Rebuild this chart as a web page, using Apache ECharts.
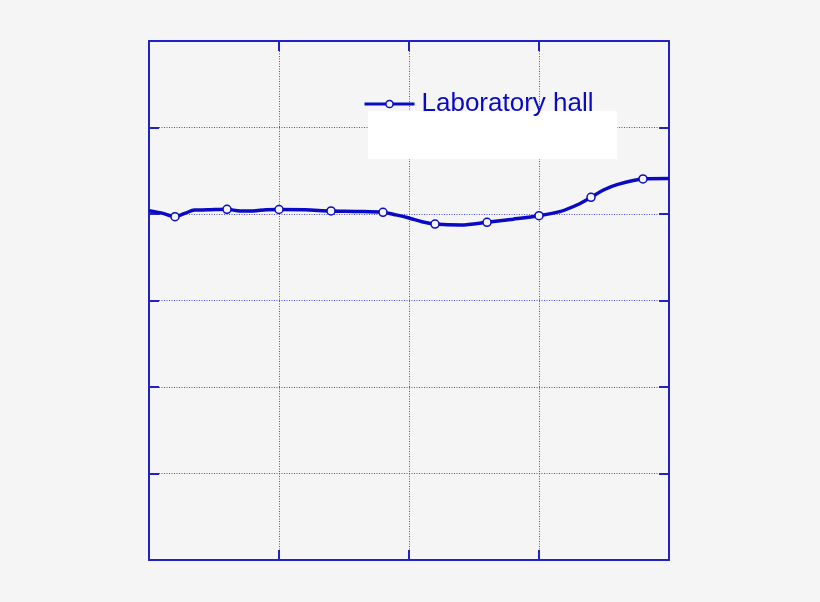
<!DOCTYPE html>
<html>
<head>
<meta charset="utf-8">
<script src="https://cdn.jsdelivr.net/npm/echarts@6/dist/echarts.min.js"></script>
<style>
html,body{margin:0;padding:0;background:#f5f5f5;}
#c{width:820px;height:602px;}
</style>
</head>
<body>
<div id="c"></div>
<script>
var seriesName = 'Laboratory hall';
var xValues = [0, 0.1, 0.2, 0.28, 0.35, 0.45, 0.6, 0.7, 0.8, 0.9, 1.0, 1.2, 1.4, 1.6, 1.8, 1.9, 2.0, 2.1, 2.2, 2.4, 2.6, 2.8, 3.0, 3.16, 3.3, 3.4, 3.5, 3.6, 3.8, 4.0];
var yValues = [4.038, 4.01, 3.969, 4.01, 4.046, 4.048, 4.054, 4.035, 4.035, 4.05, 4.052, 4.048, 4.035, 4.03, 4.02, 3.99, 3.954, 3.91, 3.884, 3.873, 3.904, 3.94, 3.98, 4.027, 4.11, 4.193, 4.28, 4.34, 4.405, 4.41];
var markerX = [0.2, 0.6, 1.0, 1.4, 1.8, 2.2, 2.6, 3.0, 3.4, 3.8];
var xMin = 0, xMax = 4, xStep = 1;
var yMin = 0, yMax = 6, yStep = 1;

var blue = '#0a0ac4';
var frame = '#2222c4';
var gridColor = '#4a4ad6';

var data = xValues.map(function (x, i) {
  var isMarker = markerX.some(function (m) { return Math.abs(m - x) < 1e-9; });
  return isMarker ? { value: [x, yValues[i]] } : { value: [x, yValues[i]], symbol: 'none' };
});

function axisCommon(extra) {
  var base = {
    type: 'value',
    axisLine: { show: true, onZero: false, lineStyle: { color: frame, width: 2 } },
    axisTick: { show: true, inside: true, length: 10, lineStyle: { color: frame, width: 2 } },
    axisLabel: { show: false },
    splitLine: { show: false }
  };
  for (var k in extra) base[k] = extra[k];
  return base;
}

var chart = echarts.init(document.getElementById('c'), null, { renderer: 'canvas' });
chart.setOption({
  backgroundColor: '#f5f5f5',
  animation: false,
  grid: { left: 149, top: 41, width: 520, height: 519, show: false },
  xAxis: [
    axisCommon({ min: xMin, max: xMax, interval: xStep, position: 'bottom',
      splitLine: { show: true, lineStyle: { color: gridColor, type: [1, 1.5], width: 1 } } }),
    axisCommon({ min: xMin, max: xMax, interval: xStep, position: 'top' })
  ],
  yAxis: [
    axisCommon({ min: yMin, max: yMax, interval: yStep, position: 'left',
      splitLine: { show: true, lineStyle: { color: gridColor, type: [1, 1.5], width: 1 } } }),
    axisCommon({ min: yMin, max: yMax, interval: yStep, position: 'right' })
  ],
  legend: {
    left: 363, top: 91, padding: 0, z: 20,
    itemWidth: 50, itemHeight: 9,
    itemStyle: { color: '#f5f5f5', borderColor: blue, borderWidth: 1.5 },
    lineStyle: { width: 3, color: blue },
    textStyle: { color: blue, fontSize: 26, fontFamily: 'Liberation Sans, Arial, sans-serif', padding: [0, 0, 0, 2] },
    data: [seriesName]
  },
  graphic: [{
    type: 'rect', z: 2,
    shape: { x: 368, y: 111, width: 249, height: 48 },
    style: { fill: '#ffffff' }
  }],
  series: [{
    name: seriesName,
    type: 'line',
    z: 10,
    xAxisIndex: 0, yAxisIndex: 0,
    data: data,
    smooth: 0.3,
    symbol: 'circle',
    symbolSize: 8,
    showSymbol: true,
    itemStyle: { color: '#f5f5f5', borderColor: blue, borderWidth: 1.5 },
    lineStyle: { color: blue, width: 3.5 }
  }]
});
</script>
</body>
</html>
